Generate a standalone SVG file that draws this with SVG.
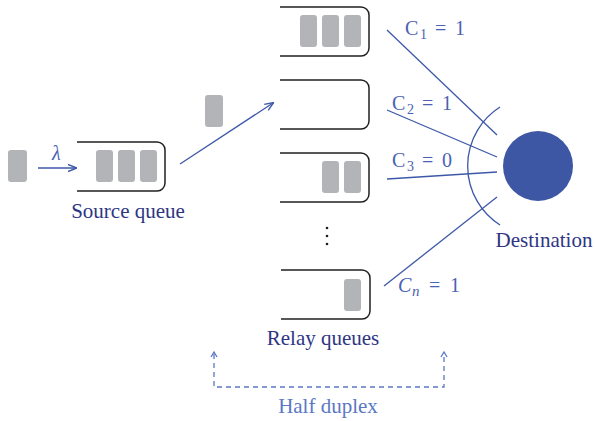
<svg xmlns="http://www.w3.org/2000/svg" width="595" height="421" viewBox="0 0 595 421">
<style>
.q{fill:none;stroke:#231f20;stroke-width:1.5}
.pk{fill:#b3b4b8}
.ln{fill:none;stroke:#3d58a8;stroke-width:1.3}
.dash{fill:none;stroke:#5a78c4;stroke-width:1.3;stroke-dasharray:5 4}
.lbl{font-family:'Liberation Serif',serif;font-size:21px;fill:#2e3585}
.cl{font-family:'Liberation Serif',serif;font-size:20px;fill:#4a62b4}
.hd{font-family:'Liberation Serif',serif;font-size:21px;fill:#5a78c4}
</style>
<defs>
<marker id="ah" viewBox="0 0 10 10" refX="9" refY="5" markerWidth="9" markerHeight="9" markerUnits="userSpaceOnUse" orient="auto">
<path d="M0,1 L10,5 L0,9" fill="none" stroke="#3d58a8" stroke-width="1.5"/>
</marker>
</defs>

<g id="incoming-packet"><rect class="pk" x="8" y="150" width="19" height="32" rx="3"/></g>
<g id="moving-packet"><rect class="pk" x="205" y="95" width="18" height="32" rx="3"/></g>

<g id="source-queue">
<path class="q" d="M77,142 H157 A8,8 0 0 1 165,150 V183 A8,8 0 0 1 157,191 H77"/>
<rect class="pk" x="96" y="150" width="17" height="32" rx="3"/>
<rect class="pk" x="118" y="150" width="17" height="32" rx="3"/>
<rect class="pk" x="140" y="150" width="17" height="32" rx="3"/>
<text class="lbl" x="128" y="218" text-anchor="middle">Source queue</text>
</g>

<g id="relay-queue-1">
<path class="q" d="M280,7 H361 A8,8 0 0 1 369,15 V48 A8,8 0 0 1 361,56 H280"/>
<rect class="pk" x="300" y="15" width="17" height="32" rx="3"/>
<rect class="pk" x="322" y="15" width="17" height="32" rx="3"/>
<rect class="pk" x="344" y="15" width="17" height="32" rx="3"/>
</g>
<g id="relay-queue-2">
<path class="q" d="M280,80 H361 A8,8 0 0 1 369,88 V121 A8,8 0 0 1 361,129 H280"/>
</g>
<g id="relay-queue-3">
<path class="q" d="M280,153 H361 A8,8 0 0 1 369,161 V194 A8,8 0 0 1 361,202 H280"/>
<rect class="pk" x="322" y="161" width="17" height="32" rx="3"/>
<rect class="pk" x="344" y="161" width="17" height="32" rx="3"/>
</g>
<g id="relay-dots" fill="#231f20">
<circle cx="327" cy="228" r="1.3"/>
<circle cx="327" cy="236" r="1.3"/>
<circle cx="327" cy="244" r="1.3"/>
</g>
<g id="relay-queue-n">
<path class="q" d="M281,270 H362 A8,8 0 0 1 370,278 V311 A8,8 0 0 1 362,319 H281"/>
<rect class="pk" x="344" y="279" width="17" height="32" rx="3"/>
<text class="lbl" x="323" y="345" text-anchor="middle">Relay queues</text>
</g>

<g id="destination">
<circle cx="538" cy="166" r="35" fill="#3d57a5"/>
<text class="lbl" x="544" y="247" text-anchor="middle">Destination</text>
</g>

<g id="connectors">
<line class="ln" x1="38" y1="168" x2="76" y2="168" marker-end="url(#ah)"/>
<line class="ln" x1="180" y1="164" x2="273" y2="103" marker-end="url(#ah)"/>
<line class="ln" x1="387" y1="30" x2="497" y2="135"/>
<line class="ln" x1="387" y1="110" x2="497" y2="157"/>
<line class="ln" x1="387" y1="179" x2="497" y2="172"/>
<line class="ln" x1="384" y1="286" x2="497" y2="197"/>
<path class="ln" d="M500,107 A70,70 0 0 0 500,225"/>
<path class="dash" d="M214,354 V387 H444 V354"/>
<path d="M211,357 L214,352 L217,357" fill="none" stroke="#5a78c4" stroke-width="1.3"/>
<path d="M441,357 L444,352 L447,357" fill="none" stroke="#5a78c4" stroke-width="1.3"/>
</g>

<g id="labels">
<text class="cl" x="52" y="160" font-style="italic" font-size="21">λ</text>
<text class="cl" y="35"><tspan x="405">C</tspan><tspan x="420" dy="4" font-size="14">1</tspan><tspan x="435" dy="-4">=</tspan><tspan x="455">1</tspan></text>
<text class="cl" y="110"><tspan x="392">C</tspan><tspan x="407" dy="4" font-size="14">2</tspan><tspan x="422" dy="-4">=</tspan><tspan x="442">1</tspan></text>
<text class="cl" y="167"><tspan x="392">C</tspan><tspan x="407" dy="4" font-size="14">3</tspan><tspan x="422" dy="-4">=</tspan><tspan x="442">0</tspan></text>
<text class="cl" y="292"><tspan x="398" font-style="italic">C</tspan><tspan x="412" dy="4" font-size="15" font-style="italic">n</tspan><tspan x="429" dy="-4">=</tspan><tspan x="450">1</tspan></text>
<text class="hd" x="328" y="413" text-anchor="middle">Half duplex</text>
</g>
</svg>
